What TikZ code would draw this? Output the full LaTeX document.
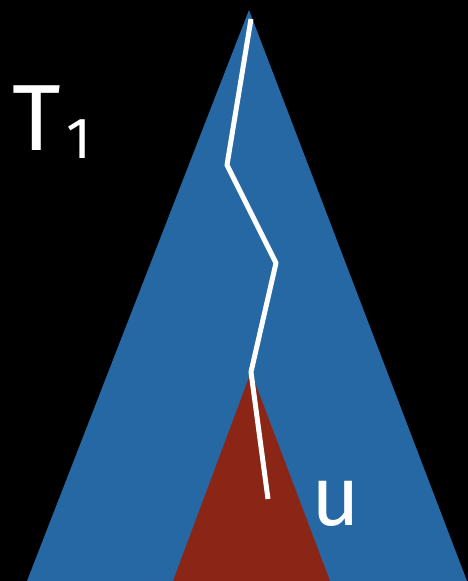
\documentclass[tikz,border=0pt]{standalone}
\usepackage{fontspec}
\setmainfont{Fira Sans}
\definecolor{treeblue}{RGB}{37,104,164}
\definecolor{subred}{RGB}{139,37,22}
\begin{document}
\begin{tikzpicture}[x=1pt, y=-1pt, line join=round, line cap=butt,
  pathline/.style={white, line width=5pt},
  lbl/.style={white, inner sep=0pt}]
  \fill[black] (0,0) rectangle (468,581);
  \useasboundingbox (0,0) rectangle (468,581);
  \path (249,10) coordinate (top) (27,581) coordinate (bl) (467,581) coordinate (br)
        (251,372) coordinate (u) (173,581) coordinate (ul) (330,581) coordinate (ur);
  % the big tree and the subtree below u
  \fill[treeblue] (top) -- (br) -- (bl) -- cycle;
  \fill[subred] (u) -- (ur) -- (ul) -- cycle;
  % root to u and beyond
  \path (251,19) coordinate (p0) (227,165) coordinate (p1) (276,263) coordinate (p2)
        (251,372) coordinate (p3) (268,499) coordinate (p4);
  \draw[pathline] (p0) -- (p1) -- (p2) -- (p3) -- (p4);
  \node[lbl, anchor=base west, font=\fontsize{94}{94}\selectfont] (tname) at (12,150)
    {T\kern6pt\raisebox{-8pt}{\fontsize{58}{58}\selectfont 1}};
  \node[lbl, anchor=base west, font=\fontsize{84}{84}\selectfont] (ulbl) at (311,525) {u};
\end{tikzpicture}
\end{document}
